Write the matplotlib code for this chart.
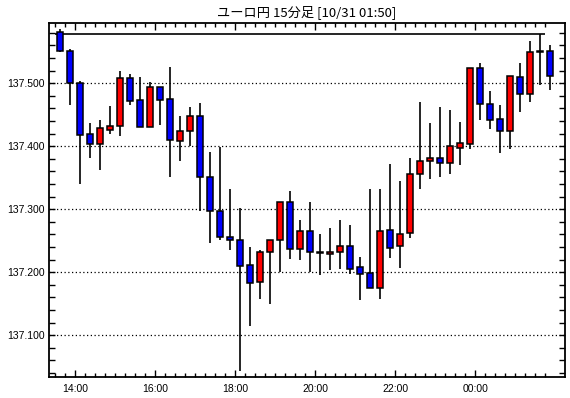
import numpy as np
import matplotlib.pyplot as plt
from matplotlib.ticker import MultipleLocator, FixedLocator

# ユーロ円 15分足 (13:30 - 01:45)
opens = [137.581, 137.552, 137.500, 137.419, 137.403, 137.426, 137.433, 137.508, 137.473, 137.431,
         137.494, 137.475, 137.409, 137.424, 137.448, 137.351, 137.297, 137.256, 137.251, 137.211,
         137.184, 137.233, 137.252, 137.311, 137.237, 137.265, 137.231, 137.229, 137.233, 137.241,
         137.208, 137.199, 137.175, 137.267, 137.241, 137.262, 137.356, 137.376, 137.381, 137.374,
         137.398, 137.404, 137.524, 137.467, 137.443, 137.425, 137.510, 137.483, 137.549, 137.552]
highs = [137.586, 137.554, 137.504, 137.437, 137.442, 137.464, 137.520, 137.515, 137.510, 137.502,
         137.494, 137.526, 137.448, 137.462, 137.468, 137.391, 137.399, 137.333, 137.302, 137.240,
         137.235, 137.252, 137.311, 137.329, 137.283, 137.311, 137.261, 137.270, 137.283, 137.275,
         137.224, 137.332, 137.332, 137.372, 137.345, 137.381, 137.470, 137.437, 137.462, 137.458,
         137.439, 137.524, 137.532, 137.488, 137.465, 137.511, 137.532, 137.567, 137.579, 137.561]
lows = [137.549, 137.466, 137.340, 137.382, 137.362, 137.420, 137.416, 137.466, 137.430, 137.430,
        137.434, 137.352, 137.377, 137.400, 137.298, 137.247, 137.252, 137.236, 137.044, 137.115,
        137.157, 137.150, 137.200, 137.221, 137.220, 137.200, 137.195, 137.203, 137.206, 137.197,
        137.156, 137.175, 137.158, 137.223, 137.207, 137.255, 137.332, 137.348, 137.352, 137.356,
        137.370, 137.396, 137.441, 137.428, 137.390, 137.396, 137.455, 137.471, 137.498, 137.490]
closes = [137.552, 137.500, 137.418, 137.403, 137.429, 137.433, 137.508, 137.472, 137.431, 137.494,
          137.474, 137.410, 137.424, 137.448, 137.351, 137.297, 137.256, 137.251, 137.210, 137.183,
          137.233, 137.252, 137.311, 137.237, 137.265, 137.232, 137.230, 137.233, 137.241, 137.205,
          137.198, 137.175, 137.265, 137.238, 137.260, 137.356, 137.377, 137.381, 137.374, 137.400,
          137.405, 137.524, 137.467, 137.442, 137.425, 137.511, 137.483, 137.549, 137.552, 137.511]

hour_labels = ['14:00', '16:00', '18:00', '20:00', '22:00', '00:00']
high_line = 137.579   # 高値ライン
title = 'ユーロ円 15分足 [10/31 01:50]'

plt.rcParams['font.family'] = ['Noto Sans CJK JP', 'DejaVu Sans']

fig = plt.figure(figsize=(5.7, 3.98), dpi=100)
ax = fig.add_axes([49 / 570, 1 - 377 / 398, 516 / 570, 354 / 398])

x = np.arange(len(opens))
o = np.array(opens)
c = np.array(closes)
colors = np.where(c >= o, '#FF0000', '#0000FF')

ax.hlines(high_line, -0.5, 48.5, color='black', lw=1.2, zorder=1)
ax.vlines(x, lows, highs, color='black', lw=1.2, zorder=2)
body = np.where(np.abs(c - o) < 0.0015, 0.0015, c - o)
ax.bar(x, body, bottom=o, width=0.62, color=colors, edgecolor='black', linewidth=1.1, zorder=3)

ax.set_xlim(-1.13, 50.47)
ax.set_ylim(137.0338, 137.5957)

# 目盛り
ax.yaxis.set_major_locator(MultipleLocator(0.1))
ax.yaxis.set_minor_locator(MultipleLocator(0.02))
ax.yaxis.set_major_formatter(lambda v, p: f'{v:.3f}')
ax.xaxis.set_major_locator(FixedLocator(np.arange(len(hour_labels)) * 8 + 1.5))
ax.set_xticklabels(hour_labels)
ax.xaxis.set_minor_locator(FixedLocator(np.arange(-0.5, 49, 1.0)))

ax.tick_params(axis='both', which='both', direction='in', top=True, right=True,
               labelsize=7.5, colors='black', width=1)
ax.tick_params(axis='y', which='both', length=4, pad=3)
ax.tick_params(axis='x', which='major', length=5, pad=5)
ax.tick_params(axis='x', which='minor', length=3)
for lab in ax.get_xticklabels() + ax.get_yticklabels():
    lab.set_family('Liberation Sans')

ax.grid(axis='y', which='major', color='black', linestyle=(0, (1, 2)), lw=0.9)
ax.set_axisbelow(True)
for s in ax.spines.values():
    s.set_linewidth(1.3)

fig.text(307 / 570, 1 - 12 / 398, title, ha='center', va='center', fontsize=9.5)

fig.savefig('out.png', dpi=100)
